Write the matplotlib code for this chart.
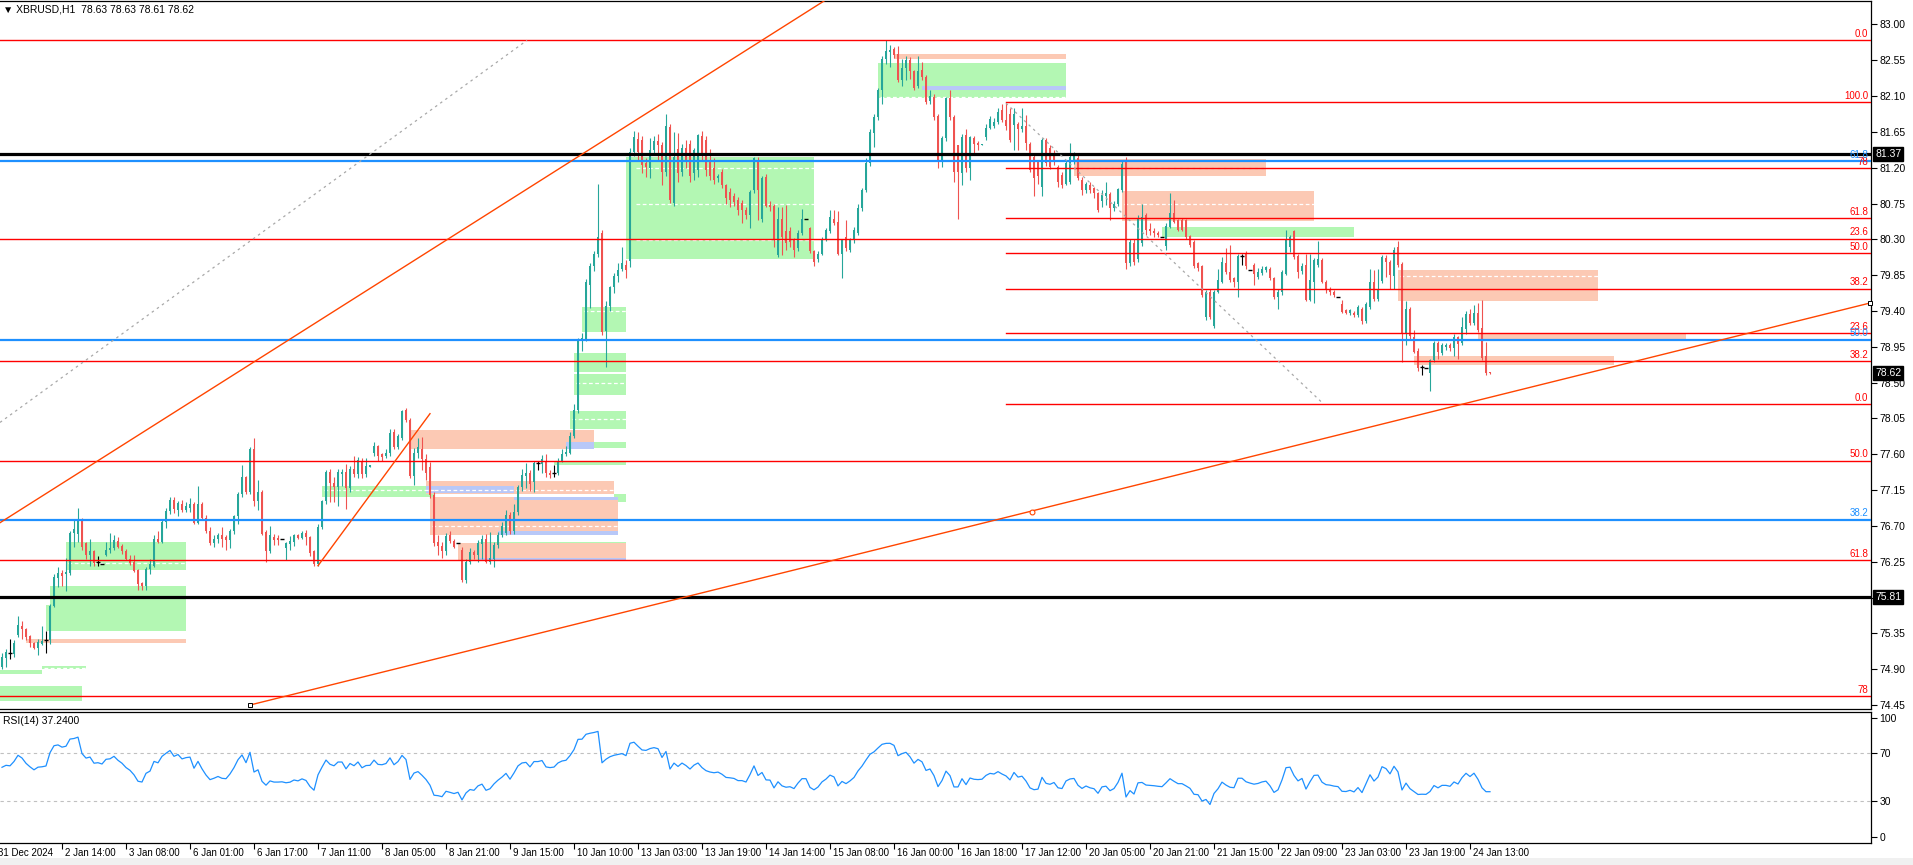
import numpy as np
import matplotlib.pyplot as plt
from matplotlib.patches import Rectangle
from matplotlib.transforms import blended_transform_factory, ScaledTranslation

# ---- XBRUSD H1 bars (index 0 = 31 Dec 2024) ----
opens = [
    74.93, 75.04, 75.10, 75.09, 75.33, 75.44, 75.40, 75.32, 75.23, 75.17,
    75.22, 75.27, 75.27, 75.70, 76.05, 76.11, 76.09, 76.11, 76.61, 76.60,
    76.78, 76.48, 76.33, 76.38, 76.25, 76.22, 76.34, 76.40, 76.42, 76.51,
    76.45, 76.39, 76.29, 76.25, 76.15, 75.98, 75.95, 76.16, 76.20, 76.53,
    76.50, 76.75, 76.89, 77.03, 76.90, 76.98, 76.90, 76.92, 76.98, 76.74,
    76.98, 76.80, 76.63, 76.49, 76.53, 76.58, 76.56, 76.52, 76.63, 76.82,
    77.10, 77.31, 77.13, 77.67, 77.01, 77.12, 76.62, 76.39, 76.56, 76.55,
    76.53, 76.42, 76.47, 76.50, 76.58, 76.55, 76.61, 76.56, 76.38, 76.22,
    76.69, 77.01, 77.38, 77.24, 77.19, 77.35, 77.38, 77.17, 77.42, 77.35,
    77.52, 77.35, 77.44, 77.61, 77.70, 77.60, 77.58, 77.62, 77.88, 77.69,
    77.81, 78.15, 78.03, 77.33, 77.62, 77.67, 77.54, 77.44, 77.09, 76.50,
    76.45, 76.39, 76.58, 76.51, 76.48, 76.40, 76.02, 76.25, 76.37, 76.33,
    76.47, 76.54, 76.25, 76.28, 76.46, 76.59, 76.61, 76.84, 76.63, 76.87,
    77.19, 77.33, 77.37, 77.25, 77.49, 77.48, 77.52, 77.37, 77.36, 77.36,
    77.52, 77.60, 77.62, 77.83, 78.15, 79.02, 79.05, 79.73, 79.96, 80.11,
    80.38, 79.15, 79.46, 79.70, 79.84, 79.93, 79.98, 80.03, 81.40, 81.56,
    81.55, 81.26, 81.20, 81.42, 81.53, 81.48, 81.14, 81.71, 80.76, 81.44,
    81.15, 81.45, 81.50, 81.13, 81.17, 81.60, 81.55, 81.30, 81.20, 81.07,
    81.14, 80.98, 80.90, 80.84, 80.80, 80.76, 80.67, 80.61, 80.92, 81.28,
    80.56, 81.08, 80.73, 80.72, 80.10, 80.56, 80.40, 80.40, 80.29, 80.19,
    80.38, 80.56, 80.44, 80.15, 80.05, 80.12, 80.30, 80.40, 80.56, 80.52,
    80.12, 80.33, 80.17, 80.29, 80.38, 80.69, 80.92, 81.26, 81.64, 81.84,
    82.18, 82.56, 82.65, 82.69, 82.63, 82.30, 82.45, 82.55, 82.41, 82.22,
    82.43, 82.34, 82.04, 82.09, 81.85, 81.30, 81.57, 82.07, 81.84, 81.49,
    81.13, 81.61, 81.19, 81.57, 81.51, 81.48, 81.58, 81.70, 81.73, 81.78,
    81.92, 81.80, 81.88, 81.74, 81.75, 81.69, 81.72, 81.50, 81.34, 81.28,
    80.96, 81.55, 81.45, 81.38, 81.21, 81.11, 81.00, 81.02, 81.28, 81.32,
    81.05, 80.92, 80.98, 80.94, 80.88, 80.78, 80.85, 80.87, 80.69, 80.75,
    80.92, 81.30, 80.00, 80.25, 80.05, 80.25, 80.60, 80.43, 80.41, 80.38,
    80.33, 80.21, 80.46, 80.63, 80.54, 80.54, 80.54, 80.34, 80.27, 80.00,
    79.96, 79.33, 79.64, 79.21, 79.64, 79.77, 80.00, 79.89, 79.81, 79.77,
    80.09, 80.12, 79.91, 79.98, 79.83, 79.88, 79.91, 79.93, 79.81, 79.58,
    79.64, 79.87, 80.20, 80.40, 80.09, 79.90, 79.98, 79.54, 79.77, 79.98,
    80.04, 79.77, 79.68, 79.64, 79.58, 79.49, 79.41, 79.37, 79.38, 79.35,
    79.43, 79.27, 79.45, 79.76, 79.55, 79.78, 80.06, 80.02, 79.84, 80.20,
    79.99, 79.12, 79.43, 79.07, 78.90, 78.69, 78.68, 78.62, 78.78, 79.00,
    78.87, 78.95, 78.97, 78.93, 79.07, 79.00, 79.17, 79.36, 79.25, 79.37,
    79.18, 78.83, 78.63]
highs = [
    75.10, 75.16, 75.28, 75.27, 75.57, 75.50, 75.42, 75.33, 75.24, 75.28,
    75.44, 75.38, 75.72, 76.10, 76.18, 76.15, 76.30, 76.64, 76.78, 76.92,
    76.80, 76.50, 76.53, 76.40, 76.32, 76.22, 76.50, 76.61, 76.58, 76.56,
    76.47, 76.41, 76.33, 76.34, 76.16, 76.00, 76.18, 76.28, 76.58, 76.64,
    76.77, 76.92, 77.06, 77.06, 77.01, 77.02, 77.00, 77.05, 77.00, 77.20,
    77.00, 76.84, 76.69, 76.58, 76.61, 76.69, 76.58, 76.66, 76.84, 77.12,
    77.46, 77.33, 77.69, 77.80, 77.28, 77.15, 76.65, 76.70, 76.60, 76.58,
    76.53, 76.50, 76.57, 76.60, 76.60, 76.64, 76.65, 76.57, 76.40, 76.72,
    77.03, 77.40, 77.42, 77.32, 77.42, 77.42, 77.48, 77.45, 77.58, 77.57,
    77.55, 77.55, 77.46, 77.75, 77.72, 77.62, 77.67, 77.92, 77.92, 77.86,
    78.16, 78.18, 78.06, 77.68, 77.80, 77.82, 77.60, 77.50, 77.12, 76.58,
    76.50, 76.61, 76.63, 76.53, 76.48, 76.44, 76.28, 76.42, 76.40, 76.52,
    76.58, 76.60, 76.62, 76.50, 76.62, 76.75, 76.90, 76.88, 76.97, 77.22,
    77.42, 77.49, 77.40, 77.51, 77.51, 77.59, 77.60, 77.40, 77.46, 77.55,
    77.66, 77.70, 77.88, 78.23, 79.06, 79.12, 79.80, 80.00, 80.15, 80.99,
    80.42, 79.52, 79.72, 79.88, 80.00, 80.20, 80.04, 81.45, 81.66, 81.65,
    81.60, 81.32, 81.57, 81.60, 81.62, 81.52, 81.88, 81.75, 81.65, 81.64,
    81.50, 81.55, 81.55, 81.45, 81.62, 81.66, 81.60, 81.44, 81.32, 81.12,
    81.18, 81.00, 80.95, 80.88, 80.83, 80.80, 80.70, 80.92, 81.33, 81.34,
    81.10, 81.12, 80.78, 80.75, 80.71, 80.71, 80.73, 80.45, 80.32, 80.42,
    80.68, 80.56, 80.46, 80.16, 80.15, 80.33, 80.44, 80.67, 80.67, 80.65,
    80.31, 80.54, 80.32, 80.45, 80.75, 80.95, 81.32, 81.68, 81.87, 82.20,
    82.60, 82.80, 82.74, 82.72, 82.73, 82.57, 82.60, 82.59, 82.43, 82.60,
    82.53, 82.36, 82.18, 82.12, 81.87, 81.60, 82.09, 82.18, 81.86, 81.49,
    81.62, 81.68, 81.60, 81.60, 81.53, 81.50, 81.75, 81.85, 81.83, 81.95,
    82.00, 82.01, 81.95, 81.95, 81.77, 81.95, 81.86, 81.52, 81.36, 81.30,
    81.57, 81.57, 81.49, 81.42, 81.23, 81.14, 81.28, 81.51, 81.40, 81.36,
    81.08, 81.02, 81.02, 80.96, 80.90, 80.92, 81.02, 80.90, 80.78, 80.95,
    81.28, 81.34, 80.30, 80.30, 80.60, 80.75, 80.63, 80.50, 80.44, 80.40,
    80.33, 80.50, 80.88, 80.79, 80.56, 80.57, 80.56, 80.36, 80.29, 80.02,
    79.98, 79.66, 79.68, 79.66, 79.93, 80.08, 80.19, 80.23, 79.83, 80.11,
    80.12, 80.15, 79.91, 80.00, 79.94, 79.96, 79.96, 79.95, 79.83, 79.67,
    79.91, 80.42, 80.36, 80.42, 80.11, 80.00, 80.11, 80.11, 80.06, 80.28,
    80.06, 79.79, 79.70, 79.66, 79.58, 79.54, 79.43, 79.43, 79.40, 79.48,
    79.45, 79.51, 79.93, 79.91, 79.93, 80.10, 80.10, 80.04, 80.20, 80.28,
    80.01, 79.53, 79.45, 79.16, 78.93, 78.72, 78.68, 78.80, 79.02, 79.02,
    79.00, 79.00, 79.00, 79.11, 79.09, 79.33, 79.40, 79.43, 79.47, 79.50,
    79.54, 79.01, 78.63]
lows = [
    74.90, 74.93, 75.03, 75.05, 75.30, 75.28, 75.27, 75.18, 75.15, 75.08,
    75.20, 75.10, 75.22, 75.68, 75.93, 75.94, 75.88, 76.08, 76.43, 76.50,
    76.40, 76.28, 76.20, 76.20, 76.20, 76.22, 76.32, 76.36, 76.40, 76.42,
    76.35, 76.27, 76.21, 76.12, 75.89, 75.89, 75.89, 76.10, 76.18, 76.48,
    76.48, 76.68, 76.85, 76.86, 76.82, 76.88, 76.88, 76.88, 76.72, 76.72,
    76.78, 76.61, 76.46, 76.44, 76.48, 76.44, 76.40, 76.42, 76.60, 76.72,
    77.06, 77.10, 77.10, 76.95, 76.90, 76.58, 76.25, 76.36, 76.46, 76.46,
    76.53, 76.27, 76.40, 76.45, 76.53, 76.53, 76.46, 76.32, 76.20, 76.20,
    76.66, 76.98, 77.00, 77.00, 76.95, 77.20, 76.91, 77.12, 77.32, 77.30,
    77.30, 77.32, 77.44, 77.58, 77.52, 77.52, 77.55, 77.58, 77.66, 77.66,
    77.78, 78.00, 77.30, 77.22, 77.55, 77.40, 77.28, 77.05, 76.45, 76.33,
    76.30, 76.33, 76.49, 76.42, 76.48, 76.00, 75.98, 76.22, 76.28, 76.25,
    76.28, 76.23, 76.22, 76.19, 76.42, 76.56, 76.58, 76.60, 76.60, 76.84,
    77.14, 77.18, 77.14, 77.12, 77.40, 77.37, 77.32, 77.30, 77.32, 77.34,
    77.50, 77.58, 77.60, 77.80, 78.12, 78.90, 79.02, 79.44, 79.90, 80.08,
    79.10, 78.70, 79.40, 79.62, 79.76, 79.90, 79.82, 79.95, 81.35, 81.30,
    81.13, 81.08, 81.07, 81.38, 81.30, 80.98, 81.10, 80.76, 80.72, 81.02,
    81.10, 81.20, 81.02, 81.05, 81.08, 81.30, 81.10, 81.05, 81.00, 81.02,
    80.95, 80.75, 80.70, 80.72, 80.60, 80.50, 80.55, 80.44, 80.88, 80.54,
    80.52, 80.70, 80.65, 80.20, 80.08, 80.10, 80.17, 80.20, 80.08, 80.15,
    80.35, 80.56, 80.13, 79.96, 80.02, 80.10, 80.28, 80.38, 80.48, 80.10,
    79.81, 80.15, 80.14, 80.26, 80.36, 80.66, 80.90, 81.22, 81.46, 81.80,
    82.00, 82.50, 82.47, 82.58, 82.28, 82.22, 82.30, 82.32, 82.18, 82.20,
    82.30, 82.00, 82.00, 81.80, 81.19, 81.21, 81.53, 81.80, 81.02, 80.56,
    80.98, 81.15, 81.05, 81.38, 81.42, 81.48, 81.55, 81.68, 81.70, 81.75,
    81.77, 81.67, 81.52, 81.42, 81.42, 81.65, 81.42, 81.14, 80.84, 81.00,
    80.84, 81.22, 81.18, 81.24, 80.96, 80.95, 80.98, 81.00, 81.25, 81.05,
    80.86, 80.88, 80.88, 80.82, 80.64, 80.70, 80.73, 80.54, 80.65, 80.72,
    80.90, 79.93, 79.96, 79.98, 80.02, 80.22, 80.36, 80.35, 80.33, 80.33,
    80.33, 80.17, 80.44, 80.50, 80.40, 80.40, 80.30, 80.20, 79.94, 79.90,
    79.57, 79.29, 79.30, 79.18, 79.62, 79.75, 79.86, 79.77, 79.70, 79.58,
    79.98, 79.93, 79.91, 79.73, 79.80, 79.85, 79.89, 79.79, 79.55, 79.43,
    79.60, 79.85, 80.14, 80.05, 79.81, 79.87, 79.52, 79.52, 79.50, 79.95,
    79.75, 79.62, 79.60, 79.58, 79.58, 79.37, 79.36, 79.35, 79.33, 79.33,
    79.24, 79.25, 79.43, 79.52, 79.52, 79.75, 79.83, 79.68, 79.68, 79.95,
    78.76, 78.97, 79.05, 78.87, 78.65, 78.60, 78.68, 78.39, 78.76, 78.80,
    78.85, 78.91, 78.90, 78.83, 78.80, 78.97, 79.11, 79.22, 79.22, 79.14,
    78.79, 78.60, 78.61]
closes = [
    75.05, 75.11, 75.10, 75.23, 75.45, 75.40, 75.30, 75.23, 75.17, 75.24,
    75.25, 75.27, 75.70, 76.06, 76.11, 76.07, 76.12, 76.61, 76.66, 76.78,
    76.44, 76.33, 76.38, 76.23, 76.25, 76.22, 76.40, 76.42, 76.52, 76.44,
    76.38, 76.29, 76.23, 76.13, 75.97, 75.95, 76.16, 76.22, 76.53, 76.50,
    76.75, 76.89, 77.03, 76.91, 76.99, 76.90, 76.95, 76.97, 76.74, 76.98,
    76.80, 76.63, 76.49, 76.53, 76.58, 76.53, 76.52, 76.64, 76.82, 77.10,
    77.31, 77.13, 77.66, 77.01, 77.12, 76.60, 76.39, 76.58, 76.52, 76.52,
    76.53, 76.49, 76.51, 76.58, 76.55, 76.61, 76.56, 76.36, 76.22, 76.69,
    77.01, 77.38, 77.24, 77.19, 77.38, 77.38, 77.17, 77.42, 77.35, 77.53,
    77.35, 77.45, 77.46, 77.70, 77.58, 77.57, 77.62, 77.87, 77.69, 77.83,
    78.14, 78.03, 77.33, 77.62, 77.69, 77.54, 77.36, 77.09, 76.48, 76.45,
    76.38, 76.57, 76.51, 76.44, 76.48, 76.02, 76.25, 76.37, 76.33, 76.48,
    76.54, 76.25, 76.30, 76.46, 76.59, 76.70, 76.84, 76.63, 76.87, 77.19,
    77.34, 77.37, 77.23, 77.49, 77.49, 77.54, 77.36, 77.34, 77.36, 77.52,
    77.60, 77.63, 77.83, 78.15, 79.04, 79.06, 79.77, 79.96, 80.11, 80.33,
    79.14, 79.46, 79.70, 79.84, 79.92, 80.00, 79.92, 81.40, 81.58, 81.40,
    81.23, 81.21, 81.42, 81.53, 81.49, 81.14, 81.72, 80.79, 81.34, 81.13,
    81.45, 81.30, 81.09, 81.42, 81.61, 81.35, 81.17, 81.09, 81.05, 81.09,
    80.98, 80.82, 80.80, 80.77, 80.67, 80.67, 80.61, 80.90, 81.32, 80.92,
    81.07, 80.72, 80.71, 80.29, 80.56, 80.33, 80.25, 80.27, 80.17, 80.38,
    80.56, 80.56, 80.15, 80.02, 80.12, 80.31, 80.42, 80.58, 80.51, 80.12,
    80.29, 80.19, 80.29, 80.42, 80.69, 80.92, 81.26, 81.65, 81.84, 82.18,
    82.56, 82.67, 82.68, 82.62, 82.30, 82.45, 82.55, 82.41, 82.20, 82.42,
    82.34, 82.03, 82.10, 81.84, 81.30, 81.57, 82.07, 81.84, 81.14, 81.14,
    81.58, 81.19, 81.58, 81.50, 81.48, 81.50, 81.70, 81.81, 81.78, 81.90,
    81.80, 81.72, 81.55, 81.88, 81.68, 81.72, 81.51, 81.17, 81.07, 81.09,
    81.55, 81.26, 81.21, 81.28, 81.02, 80.98, 81.26, 81.34, 81.36, 81.07,
    80.92, 81.00, 80.92, 80.88, 80.67, 80.86, 80.88, 80.69, 80.75, 80.93,
    81.25, 80.00, 80.27, 80.02, 80.56, 80.58, 80.42, 80.40, 80.38, 80.35,
    80.33, 80.47, 80.63, 80.52, 80.42, 80.42, 80.33, 80.23, 79.96, 79.94,
    79.60, 79.64, 79.33, 79.64, 79.79, 80.02, 79.89, 79.79, 79.77, 80.09,
    80.09, 79.96, 79.91, 79.87, 79.89, 79.93, 79.95, 79.81, 79.58, 79.64,
    79.89, 80.31, 80.33, 80.08, 79.89, 79.97, 79.54, 79.79, 80.04, 80.05,
    79.77, 79.66, 79.64, 79.60, 79.58, 79.39, 79.38, 79.41, 79.35, 79.45,
    79.27, 79.49, 79.76, 79.55, 79.68, 80.08, 80.02, 79.85, 80.17, 79.98,
    79.12, 79.42, 79.08, 78.89, 78.68, 78.69, 78.68, 78.78, 79.00, 78.88,
    78.97, 78.97, 78.93, 79.07, 78.99, 79.20, 79.36, 79.25, 79.37, 79.16,
    78.81, 78.62, 78.62]

# time scale: bar index of each label
time_ticks = [-1, 15, 31, 47, 63, 79, 95, 111, 127, 143, 159, 175, 191, 207,
              223, 239, 255, 271, 287, 303, 319, 335, 351, 367]
time_labels = ['31 Dec 2024', '2 Jan 14:00', '3 Jan 08:00', '6 Jan 01:00', '6 Jan 17:00',
               '7 Jan 11:00', '8 Jan 05:00', '8 Jan 21:00', '9 Jan 15:00', '10 Jan 10:00',
               '13 Jan 03:00', '13 Jan 19:00', '14 Jan 14:00', '15 Jan 08:00', '16 Jan 00:00',
               '16 Jan 18:00', '17 Jan 12:00', '20 Jan 05:00', '20 Jan 21:00', '21 Jan 15:00',
               '22 Jan 09:00', '23 Jan 03:00', '23 Jan 19:00', '24 Jan 13:00']
price_ticks = [74.45, 74.90, 75.35, 75.80, 76.25, 76.70, 77.15, 77.60, 78.05, 78.50,
               78.95, 79.40, 79.85, 80.30, 80.75, 81.20, 81.65, 82.10, 82.55, 83.00]
rsi_ticks = [0, 30, 70, 100]

# chart objects (bar index, price)
fib_full = [(82.80, '0.0'), (80.31, '23.6'), (78.77, '38.2'), (77.52, '50.0'),
            (76.27, '61.8'), (74.56, '78')]
fib_part = [(78.23, '0.0'), (79.12, '23.6'), (79.68, '38.2'), (80.125, '50.0'),
            (80.57, '61.8'), (81.19, '78'), (82.02, '100.0')]
fib_part_start = 251
fib_blue = [(81.28, '61.8'), (79.04, '50.0'), (76.78, '38.2')]
black_levels = [81.37, 75.81]
last_price = 78.62

zones = [  # x0, x1, low, high, kind
    (223, 266, 82.56, 82.63, 's'), (219, 266, 82.08, 82.52, 'g'), (230, 266, 82.18, 82.23, 'b'),
    (156, 203, 80.05, 81.33, 'g'),
    (145, 156, 79.14, 79.45, 'g'), (143, 156, 78.63, 78.87, 'g'), (143, 156, 78.34, 78.61, 'g'),
    (142, 156, 77.92, 78.14, 'g'), (102, 148, 77.66, 77.90, 's'), (141, 148, 77.67, 77.76, 'b'),
    (148, 156, 77.68, 77.76, 'g'), (138, 156, 77.46, 77.51, 'g'),
    (80, 108, 77.06, 77.20, 'g'), (106, 153, 77.10, 77.26, 's'), (106, 128, 77.11, 77.20, 'b'),
    (153, 156, 77.00, 77.10, 'g'), (107, 154, 76.59, 77.06, 's'), (128, 154, 77.03, 77.06, 'b'),
    (124, 154, 76.59, 76.63, 'b'), (114, 156, 76.27, 76.49, 's'), (119, 156, 76.27, 76.30, 'b'),
    (119, 156, 76.48, 76.50, 'g'),
    (16, 46, 76.15, 76.50, 'g'), (12, 46, 75.71, 75.94, 'g'), (11, 46, 75.38, 75.71, 'g'),
    (6, 46, 75.23, 75.28, 's'), (-0.5, 10, 74.84, 74.89, 'g'), (10, 21, 74.90, 74.94, 'g'),
    (-0.5, 20, 74.50, 74.69, 'g'),
    (268, 316, 81.10, 81.31, 's'), (280, 328, 80.53, 80.91, 's'), (290, 338, 80.33, 80.45, 'g'),
    (349, 399, 79.53, 79.92, 's'), (369, 421, 79.03, 79.12, 's'), (353, 403, 78.72, 78.83, 's'),
]
zone_mid = [  # dashed mid lines: x0, x1, price
    (219, 266, 82.09), (158, 203, 81.20), (158, 203, 80.74), (158, 203, 80.29),
    (145, 156, 79.40), (143, 156, 78.49), (142, 156, 78.04), (80, 108, 77.15),
    (106, 153, 77.15), (107, 154, 76.70), (16, 46, 76.24), (268, 316, 81.20),
    (280, 328, 80.74), (349, 399, 79.84), (10, 21, 74.92),
]
trend_a = [(-0.5, 76.74), (206, 83.31)]
trend_b = [(62, 74.45), (467, 79.50)]
trend_b_mid = (257.5, 76.87)
trend_c = [(79, 76.20), (107, 78.11)]
fib_diag_1 = [(-0.5, 78.00), (131.25, 82.80)]
fib_diag_2 = [(251, 82.01), (330, 78.25)]

UP, DN, RED, BLUE, ORANGE = '#26a69a', '#ef5350', '#ff0000', '#1e90ff', '#ff4500'
ZC = {'g': '#b3f7b3', 's': '#fcc9b4', 'b': '#b8c8f8'}

W, H = 1913, 865
plt.rcParams['font.family'] = ['Liberation Sans', 'DejaVu Sans']
fig = plt.figure(figsize=(W / 100, H / 100), dpi=100)


def px_axes(x0, y0, x1, y1):
    return fig.add_axes([x0 / W, 1 - y1 / H, (x1 - x0) / W, (y1 - y0) / H])


ax = px_axes(0, 1, 1871, 709)
rx = px_axes(0, 712, 1871, 843)
XMAX = 467.25
for a in (ax, rx):
    a.set_xlim(-0.5, XMAX)
    a.spines['left'].set_visible(False)
    for s in ('right', 'top', 'bottom'):
        a.spines[s].set_linewidth(0.9)
    a.yaxis.tick_right()
    a.tick_params(axis='y', length=4, width=0.8, pad=2, labelsize=7.5)
ax.set_ylim(74.40, 83.294)
ax.set_yticks(price_ticks)
# the 75.80 label sits under the 75.81 level box on the scale
ax.set_yticklabels(['' if abs(p - 75.80) < 0.01 else f'{p:.2f}' for p in price_ticks])
ax.tick_params(axis='x', bottom=False, labelbottom=False)

# zones
for x0, x1, lo, hi, k in zones:
    ax.add_patch(Rectangle((x0, lo), x1 - x0, hi - lo, fc=ZC[k], ec='none', zorder=1))
for x0, x1, p in zone_mid:
    ax.plot([x0 + 0.5, x1], [p, p], color='white', lw=0.9, dashes=(3, 2), zorder=1.5)

# candles
o, h, l, c = map(np.array, (opens, highs, lows, closes))
h = np.maximum(h, np.maximum(o, c))
l = np.minimum(l, np.minimum(o, c))
idx = np.arange(len(c))
col = np.where(c > o, UP, np.where(c < o, DN, 'black'))
dj = c == o
ax.vlines(idx, l, h, colors=col, lw=0.8, zorder=3)
ax.bar(idx[~dj], np.maximum(np.abs(c - o), 0.013)[~dj], bottom=np.minimum(o, c)[~dj],
       width=0.66, color=col[~dj], lw=0, zorder=4)
ax.hlines(c[dj], idx[dj] - 0.45, idx[dj] + 0.45, colors='black', lw=1.0, zorder=4)

# levels
trY = blended_transform_factory(ax.transAxes, ax.transData)
def lvl_label(p, t, color):
    ax.text(0.9985, p + 0.015, t, transform=trY, ha='right', va='bottom',
            color=color, fontsize=7, zorder=6)

for p, t in fib_full:
    ax.axhline(p, color=RED, lw=1.0, zorder=5)
    lvl_label(p, t, RED)
for p, t in fib_part:
    ax.plot([fib_part_start, XMAX], [p, p], color=RED, lw=1.0, zorder=5)
    lvl_label(p, t, RED)
for p, t in fib_blue:
    ax.axhline(p, color=BLUE, lw=1.6, zorder=5)
    lvl_label(p, t, BLUE)
for p in black_levels:
    ax.axhline(p, color='black', lw=2.3, zorder=5)

# trend lines
for seg in (trend_a, trend_b, trend_c):
    xs, ys = zip(*seg)
    ax.plot(xs, ys, color=ORANGE, lw=1.0, zorder=5)
for seg in (fib_diag_1, fib_diag_2):
    xs, ys = zip(*seg)
    ax.plot(xs, ys, color='#a8a8a8', lw=0.9, dashes=(2, 3), zorder=5)
ax.plot(*trend_b[0], marker='s', ms=3.5, mfc='white', mec='black', mew=0.7, zorder=7, clip_on=False)
ax.plot(*trend_b[1], marker='s', ms=3.5, mfc='white', mec='black', mew=0.7, zorder=7, clip_on=False)
ax.plot(*trend_b_mid, marker='o', ms=3.5, mfc='white', mec=ORANGE, mew=0.8, zorder=7)

# price boxes on the scale
for p in black_levels + [last_price]:
    ax.text(1.0 + 4 / 1871, p, f'{p:.2f}', transform=trY, ha='left', va='center',
            color='white', fontsize=7.5, zorder=10, clip_on=False,
            bbox=dict(boxstyle='square,pad=0.2', fc='black', ec='black'))

# RSI(14) from the closes
d = np.diff(c, prepend=c[0])
ag, al = 0.07, 0.05
rsi = []
for gi, li in zip(np.clip(d, 0, None), np.clip(-d, 0, None)):
    ag = (ag * 13 + gi) / 14
    al = (al * 13 + li) / 14
    rsi.append(100 * ag / (ag + al))
rx.set_ylim(-5.3, 104.8)
for lv in (70, 30):
    rx.axhline(lv, color='#c0c0c0', lw=0.8, dashes=(3, 3))
rx.plot(idx, rsi, color=BLUE, lw=0.9)
rx.set_yticks(rsi_ticks)
rx.set_yticklabels([str(v) for v in rsi_ticks])
rx.set_xticks([t for t in time_ticks if t >= 0])
rx.tick_params(axis='x', length=4, width=0.8, labelbottom=False)
trX = blended_transform_factory(rx.transData, rx.transAxes)
off = ScaledTranslation(2 / 72, 0, fig.dpi_scale_trans)
for t, lab in zip(time_ticks, time_labels):
    xt = t - 0.6 if t < 0 else t
    rx.text(xt, -0.075, lab, transform=trX + off, ha='left', va='center',
            fontsize=7, clip_on=False)

fig.text(3 / W, 1 - 9 / H, '\u25bc XBRUSD,H1  78.63 78.63 78.61 78.62', fontsize=7.5, va='center')
fig.text(3 / W, 1 - 721 / H, 'RSI(14) 37.2400', fontsize=7.5, va='center')
fig.patches.append(Rectangle((0, 0), 1, 7 / H, transform=fig.transFigure,
                             fc='#f0f0f0', ec='none', zorder=0))

fig.savefig('out.png', dpi=100)
